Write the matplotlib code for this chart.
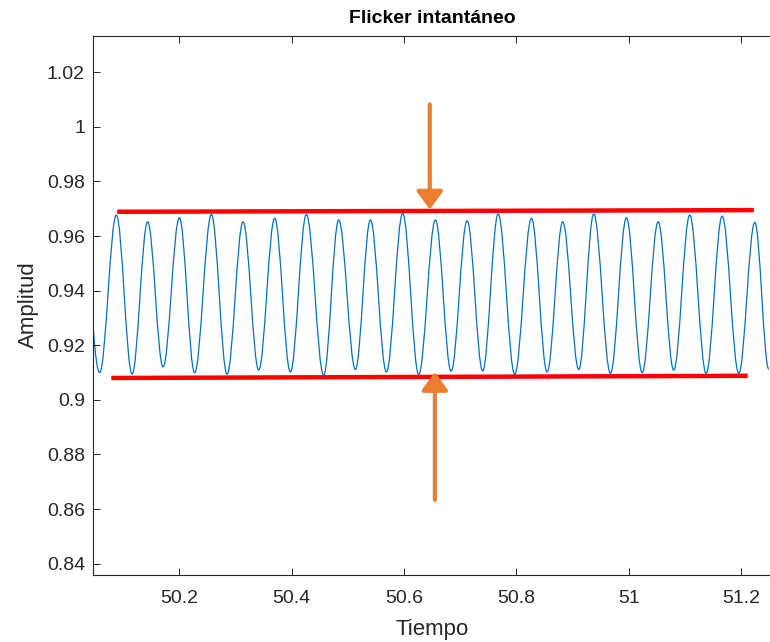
import matplotlib
matplotlib.use('Agg')
from matplotlib import pyplot as plt
from matplotlib.path import Path
from matplotlib.patches import PathPatch
from matplotlib.ticker import FormatStrFormatter

plt.rcParams['font.family'] = ['Liberation Sans', 'DejaVu Sans']

# curva: punto inicial, valles, picos y punto final
t_ini, a_ini = 50.047, 0.926
t_valle = [50.0583, 50.1160, 50.1712, 50.2274, 50.2851, 50.3414, 50.3978,
           50.4571, 50.5136, 50.5688, 50.6263, 50.6840, 50.7402, 50.7972,
           50.8549, 50.9112, 50.9676, 51.0241, 51.0803, 51.1380, 51.1961]
a_valle = [0.9100, 0.9094, 0.9121, 0.9099, 0.9094, 0.9109, 0.9102,
           0.9090, 0.9111, 0.9102, 0.9093, 0.9105, 0.9106, 0.9094,
           0.9102, 0.9111, 0.9097, 0.9099, 0.9109, 0.9097, 0.9097]
t_pico = [50.0880, 50.1437, 50.2002, 50.2572, 50.3136, 50.3699, 50.4263,
          50.4838, 50.5403, 50.5978, 50.6560, 50.7125, 50.7677, 50.8270,
          50.8827, 50.9379, 50.9961, 51.0526, 51.1088, 51.1665, 51.2246]
a_pico = [0.9677, 0.9652, 0.9667, 0.9679, 0.9652, 0.9665, 0.9679,
          0.9659, 0.9659, 0.9683, 0.9659, 0.9656, 0.9681, 0.9665,
          0.9652, 0.9681, 0.9667, 0.9652, 0.9677, 0.9673, 0.9650]
t_fin, a_fin = 51.2495, 0.9113

# envolventes rojas
sup_t = [50.0895, 51.223]
sup_a = [0.9689, 0.9695]
inf_t = [50.079, 51.212]
inf_a = [0.9080, 0.9088]

# flechas naranjas (origen, punta)
flecha_sup = [(50.646, 1.0082), (50.646, 0.9697)]
flecha_inf = [(50.655, 0.8633), (50.655, 0.9102)]

azul = '#0072BD'
rojo = '#FF0000'
naranja = '#ED7D31'
gris = '#262626'

# extremos en orden
ext = []
for i in range(len(t_valle)):
    ext.append((t_valle[i], a_valle[i]))
    ext.append((t_pico[i], a_pico[i]))
ext.append((t_fin, a_fin))

k = 0.3634
verts = [(t_ini, a_ini)]
codes = [Path.MOVETO]
x0, y0 = t_ini, a_ini
x1, y1 = ext[0]
dx = x1 - x0
verts += [(x0 + 0.3 * dx, y0 + 0.6 * (y1 - y0)), (x1 - k * dx, y1), (x1, y1)]
codes += [Path.CURVE4] * 3
for (x0, y0), (x1, y1) in zip(ext[:-1], ext[1:]):
    dx = x1 - x0
    verts += [(x0 + k * dx, y0), (x1 - k * dx, y1), (x1, y1)]
    codes += [Path.CURVE4] * 3

fig = plt.figure(figsize=(7.7, 6.42), dpi=100)
ax = fig.add_axes([0.1212, 0.1051, 0.8805, 0.8393])

ax.add_patch(PathPatch(Path(verts, codes), fill=False, edgecolor=azul, lw=0.9))
ax.plot(sup_t, sup_a, color=rojo, lw=3.2, solid_capstyle='butt')
ax.plot(inf_t, inf_a, color=rojo, lw=3.2, solid_capstyle='butt')

for ini, fin in (flecha_sup, flecha_inf):
    ax.annotate('', xy=fin, xytext=ini,
                arrowprops=dict(arrowstyle='-|>,head_length=0.55,head_width=0.4',
                                color=naranja, lw=3, mutation_scale=20,
                                shrinkA=0, shrinkB=0))

ax.set_xlim(50.047, 51.254)
ax.set_ylim(0.836, 1.0334)
ax.set_xticks([50.2, 50.4, 50.6, 50.8, 51.0, 51.2])
ax.set_yticks([0.84, 0.86, 0.88, 0.90, 0.92, 0.94, 0.96, 0.98, 1.00, 1.02])
ax.xaxis.set_major_formatter(FormatStrFormatter('%g'))
ax.yaxis.set_major_formatter(FormatStrFormatter('%g'))
ax.tick_params(direction='in', length=5, width=0.7, top=True, right=False,
               labelsize=14, colors=gris, labelcolor=gris)
ax.tick_params(axis='x', pad=11)
ax.tick_params(axis='y', pad=6)
for s in ax.spines.values():
    s.set_color(gris)
    s.set_linewidth(0.8)
ax.spines['right'].set_visible(False)

ax.set_xlabel('Tiempo', fontsize=16, color=gris, labelpad=9)
ax.set_ylabel('Amplitud', fontsize=16, color=gris, labelpad=6)
ax.set_title('Flicker intantáneo', fontsize=14, fontweight='bold', pad=9)

fig.savefig('out.png', dpi=100)
